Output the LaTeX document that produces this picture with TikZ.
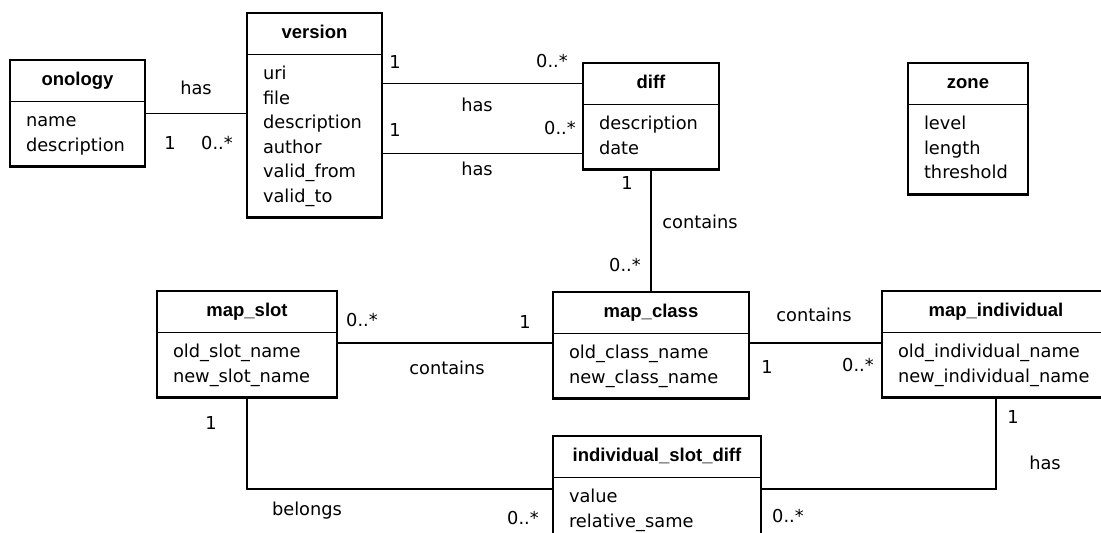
\documentclass[tikz,border=0pt]{standalone}
\usepackage{fontspec}
\setmainfont{DejaVu Sans}
\newfontfamily\hdfont{Liberation Sans}
\usepackage{tikz}
\usetikzlibrary{shapes.multipart,calc,positioning}

\newcommand\umlfont{\fontsize{17.8}{24.5}\selectfont}
\newcommand\umlhead[1]{\makebox[\hsize]{\hdfont\bfseries\fontsize{18.5}{24.5}\selectfont\strut #1}}

\tikzset{
  umlclass/.style={rectangle split, rectangle split parts=2,
    rectangle split draw splits=false, draw, line width=2.6pt,
    anchor=north west, outer sep=0pt, inner xsep=16pt, inner ysep=7pt,
    align=left, font=\umlfont},
  splitline/.style={line width=1.2pt},
  assoc/.style={line width=1.3pt},
  mult/.style={font=\umlfont, inner sep=0pt, text height=13pt, text depth=0pt},
}

\begin{document}
\begin{tikzpicture}[x=1pt, y=-1pt]
    \useasboundingbox (0,0) rectangle (1101,533);
    \clip (0,0) rectangle (1101,533);

    % Classes
    \node[umlclass, text width=103pt] (onology) at (10,60)
        {\umlhead{onology}\nodepart{two}\strut name\\description\strut};
    \node[umlclass, text width=103pt] (version) at (247,13)
        {\umlhead{version}\nodepart{two}\strut uri\\file\\description\\author\\valid\_from\\valid\_to\strut};
    \node[umlclass, text width=104pt] (diff) at (583,63)
        {\umlhead{diff}\nodepart{two}\strut description\\date\strut};
    \node[umlclass, text width=88pt] (zone) at (908,63)
        {\umlhead{zone}\nodepart{two}\strut level\\length\\threshold\strut};
    \node[umlclass, text width=148pt] (map_slot) at (157,291)
        {\umlhead{map\_slot}\nodepart{two}\strut old\_slot\_name\\new\_slot\_name\strut};
    \node[umlclass, text width=164pt] (map_class) at (553,292)
        {\umlhead{map\_class}\nodepart{two}\strut old\_class\_name\\new\_class\_name\strut};
    \node[umlclass, text width=196pt] (map_individual) at (882,291)
        {\umlhead{map\_individual}\nodepart{two}\strut old\_individual\_name\\new\_individual\_name\strut};
    \node[umlclass, text width=176pt] (isd) at (553,436)
        {\umlhead{individual\_slot\_diff}\nodepart{two}\strut value\\relative\_same\strut};

    \foreach \c in {onology,version,diff,zone,map_slot,map_class,map_individual,isd}
        \draw[splitline] (\c.text split west) -- (\c.text split east);

    % Associations
    \coordinate (dtop) at ($(diff.north west)!.5!(diff.text split west)$);
    \coordinate (dlow) at ([yshift=16pt]diff.south west);
    \coordinate (cleft) at ([yshift=-10pt]map_class.text split west);
    \coordinate (cright) at ([yshift=-10pt]map_class.text split east);
    \coordinate (sleft) at ([yshift=-12pt]isd.text split west);
    \coordinate (sright) at ([yshift=-12pt]isd.text split east);

    \draw[assoc] (onology.east) -- (onology.east -| version.west);
    \draw[assoc] (version.east |- dtop) -- (dtop);
    \draw[assoc] (version.east |- dlow) -- (dlow);
    \draw[assoc] (diff.south) -- (map_class.north);
    \draw[assoc] (map_slot.east |- cleft) -- (cleft);
    \draw[assoc] (cright) -- (map_individual.west |- cright);
    \draw[assoc] (map_slot.south) |- (sleft);
    \draw[assoc] (map_individual.south) |- (sright);

    % Labels and multiplicities
    \node[mult] (l_ov) at (196,88) {has};
    \node[mult] (m_ov1) at (170,143) {1};
    \node[mult] (m_ov2) at (217,143) {0..*};

    \node[mult] (m_vd1) at (395,62) {1};
    \node[mult] (m_vd2) at (552,61) {0..*};
    \node[mult] (l_vd) at (477,105) {has};
    \node[mult] (m_vd3) at (395,130) {1};
    \node[mult] (m_vd4) at (560,128) {0..*};
    \node[mult] (l_vd2) at (477,169) {has};

    \node[mult] (m_dc1) at (627,183) {1};
    \node[mult] (l_dc) at (700,222) {contains};
    \node[mult] (m_dc2) at (625,265) {0..*};

    \node[mult] (m_sc1) at (362,320) {0..*};
    \node[mult] (m_sc2) at (525,322) {1};
    \node[mult] (l_sc) at (447,368) {contains};

    \node[mult] (l_ci) at (814,315) {contains};
    \node[mult] (m_ci1) at (767,367) {1};
    \node[mult] (m_ci2) at (858,365) {0..*};

    \node[mult] (m_si1) at (211,423) {1};
    \node[mult] (l_si) at (307,509) {belongs};
    \node[mult] (m_si2) at (523,518) {0..*};

    \node[mult] (m_ii1) at (1013,417) {1};
    \node[mult] (l_ii) at (1045,463) {has};
    \node[mult] (m_ii2) at (788,516) {0..*};
\end{tikzpicture}
\end{document}
